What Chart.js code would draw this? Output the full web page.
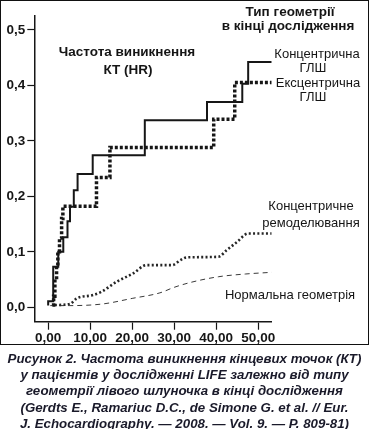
<!DOCTYPE html>
<html lang="uk">
<head>
<meta charset="utf-8">
<script src="https://cdn.jsdelivr.net/npm/chart.js@4.4.1/dist/chart.umd.min.js"></script>
<style>
  html, body { margin: 0; padding: 0; background: #fff; }
  #wrap { position: relative; width: 369px; height: 429px; overflow: hidden;
          font-family: "Liberation Sans", Arial, sans-serif; color: #151515; }
  #chartBox { position: absolute; left: 0; top: 0; width: 369px; height: 345px; }
  #frame { position: absolute; left: 0; top: 0; width: 369px; height: 345px;
           box-sizing: border-box; border: 1.5px solid #111; pointer-events: none; }
  .lbl { position: absolute; transform: translate(-50%, -50%); white-space: nowrap;
         font-size: 13px; line-height: 1; }
  .b { font-weight: bold; font-size: 13.5px; }
  #caption { position: absolute; left: 0; top: 351px; width: 369px; text-align: center;
             font-size: 13.3px; font-weight: bold; font-style: italic; line-height: 16.2px;
             color: #1a1a2a; white-space: nowrap; }
</style>
</head>
<body>
<div id="wrap">
  <div id="chartBox"><canvas id="c" width="369" height="345"></canvas></div>
  <div id="frame"></div>

  <div class="lbl b" style="left:290px;top:12px">Тип геометрії</div>
  <div class="lbl b" style="left:288px;top:26px">в кінці дослідження</div>
  <div class="lbl b" style="left:127px;top:52px">Частота виникнення</div>
  <div class="lbl b" style="left:128px;top:70px">КТ (HR)</div>

  <div class="lbl" style="left:317px;top:53px">Концентрична</div>
  <div class="lbl" style="left:313px;top:67px">ГЛШ</div>
  <div class="lbl" style="left:318px;top:82px">Ексцентрична</div>
  <div class="lbl" style="left:313px;top:96px">ГЛШ</div>
  <div class="lbl" style="left:311px;top:205px">Концентричне</div>
  <div class="lbl" style="left:311px;top:222px">ремоделювання</div>
  <div class="lbl" style="left:290px;top:294px">Нормальна геометрія</div>

  <div id="caption">Рисунок 2. Частота виникнення кінцевих точок (КТ)<br>у пацієнтів у дослідженні LIFE залежно від типу<br>геометрії лівого шлуночка в кінці дослідження<br>(Gerdts E., Ramariuc D.C., de Simone G. et al. // Eur.<br>J. Echocardiography. — 2008. — Vol. 9. — P. 809-81)</div>
</div>

<script>
// axis ticks
const xTicks = [0, 10, 20, 30, 40, 50];
const xTickLabels = ['0,00', '10,00', '20,00', '30,00', '40,00', '50,00'];
const yTicks = [0, 0.1, 0.2, 0.3, 0.4, 0.5];
const yTickLabels = ['0,0', '0,1', '0,2', '0,3', '0,4', '0,5'];

// concentric LVH (solid step line)
const concLvhX = [0, 0, 1.2, 2.4, 3.6, 4.6, 5.2, 6.1, 7.0, 10.6, 23.0, 37.8, 46.2, 47.6, 53.2];
const concLvhY = [0.003, 0.011, 0.073, 0.100, 0.126, 0.155, 0.181, 0.211, 0.240, 0.274, 0.337, 0.370, 0.403, 0.442, 0.442];

// eccentric LVH (thick dotted step line)
const eccLvhX = [1.0, 1.3, 1.6, 2.0, 2.3, 2.7, 3.2, 3.5, 11.5, 14.7, 39.4, 44.4, 53.2];
const eccLvhY = [0.004, 0.020, 0.050, 0.075, 0.100, 0.125, 0.160, 0.182, 0.234, 0.288, 0.339, 0.405, 0.405];

// concentric remodelling (dotted curve)
const concRemX = [1.6, 5.2, 6.8, 10.7, 12.7, 16.3, 20.2, 23.4, 29.5, 31.5, 33.0, 40.5, 42.5, 45.0, 47.6, 53.2];
const concRemY = [0.004, 0.006, 0.016, 0.022, 0.028, 0.046, 0.061, 0.076, 0.076, 0.085, 0.090, 0.091, 0.103, 0.118, 0.133, 0.133];

// normal geometry (dashed curve)
const normalX = [0.5, 5.0, 13.0, 20.0, 26.6, 30.0, 34.0, 40.5, 47.0, 53.2];
const normalY = [0.003, 0.003, 0.006, 0.016, 0.026, 0.036, 0.045, 0.055, 0.060, 0.063];

const toPoints = (xs, ys) => xs.map((x, i) => ({ x, y: ys[i] }));

const tickFont = { family: '"Liberation Sans", Arial, sans-serif', size: 13.5, weight: 'bold' };
const ink = '#161616';

new Chart(document.getElementById('c'), {
  type: 'line',
  data: {
    datasets: [
      {
        label: 'Концентрична ГЛШ',
        data: toPoints(concLvhX, concLvhY),
        borderColor: ink,
        borderWidth: 2,
        stepped: 'before',
        pointRadius: 0,
        fill: false,
      },
      {
        label: 'Ексцентрична ГЛШ',
        data: toPoints(eccLvhX, eccLvhY),
        borderColor: ink,
        borderWidth: 3.5,
        borderDash: [3, 2],
        stepped: 'before',
        pointRadius: 0,
        fill: false,
      },
      {
        label: 'Концентричне ремоделювання',
        data: toPoints(concRemX, concRemY),
        borderColor: '#262626',
        borderWidth: 2.6,
        borderDash: [2, 2.3],
        cubicInterpolationMode: 'monotone',
        pointRadius: 0,
        fill: false,
      },
      {
        label: 'Нормальна геометрія',
        data: toPoints(normalX, normalY),
        borderColor: '#3a3a3a',
        borderWidth: 1,
        borderDash: [5, 4],
        cubicInterpolationMode: 'monotone',
        pointRadius: 0,
        fill: false,
      },
    ],
  },
  options: {
    responsive: false,
    animation: false,
    devicePixelRatio: 1,
    layout: { padding: { left: 0, right: 97.3, top: 16, bottom: 0 } },
    plugins: {
      legend: { display: false },
      tooltip: { enabled: false },
    },
    scales: {
      x: {
        type: 'linear',
        min: -3.3,
        max: 53.2,
        afterBuildTicks(axis) { axis.ticks = xTicks.map((v) => ({ value: v })); },
        afterFit(scale) { scale.height = 23.3; },
        ticks: {
          autoSkip: false,
          maxRotation: 0,
          padding: 0,
          color: ink,
          font: tickFont,
          callback(value) {
            const i = xTicks.indexOf(value);
            return i >= 0 ? xTickLabels[i] : '';
          },
        },
        grid: { drawOnChartArea: false, drawTicks: true, tickLength: 8, tickColor: ink, tickWidth: 1.2 },
        border: { display: true, color: ink, width: 1.5 },
      },
      y: {
        type: 'linear',
        min: -0.026,
        max: 0.525,
        afterBuildTicks(axis) { axis.ticks = yTicks.map((v) => ({ value: v })); },
        afterFit(scale) { scale.width = 34.3; },
        ticks: {
          autoSkip: false,
          padding: 2,
          color: ink,
          font: tickFont,
          callback(value) {
            const i = yTicks.indexOf(value);
            return i >= 0 ? yTickLabels[i] : '';
          },
        },
        grid: { drawOnChartArea: false, drawTicks: true, tickLength: 7, tickColor: ink, tickWidth: 1.2 },
        border: { display: true, color: ink, width: 1.5 },
      },
    },
  },
});
</script>
</body>
</html>
